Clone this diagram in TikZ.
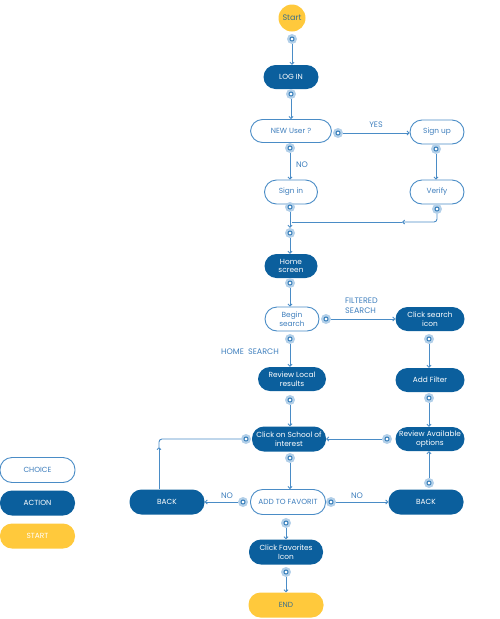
\documentclass[tikz,border=0pt]{standalone}
\usepackage{fontspec}
\setmainfont{Poppins}
\usetikzlibrary{arrows.meta}
\definecolor{dblue}{HTML}{0B5F9D}
\definecolor{lblue}{HTML}{4A8CC6}
\definecolor{tblue}{HTML}{3F7FBD}
\definecolor{halo}{HTML}{B3D0E9}
\definecolor{ylw}{HTML}{FFC93C}
\definecolor{slate}{HTML}{3A6F8C}
\tikzset{
  pill/.style={rectangle, rounded corners=12pt, minimum width=#1, minimum height=24pt, inner sep=1pt, align=center, font=\fontsize{7.4}{8.8}\selectfont},
  act/.style={pill=#1, fill=dblue, text=white},
  choice/.style={pill=#1, draw=lblue, line width=0.9pt, fill=white, text=tblue},
  term/.style={pill=#1, fill=ylw, text=slate},
  dotn/.style={circle, fill=halo, inner sep=0pt, minimum size=10pt,
    path picture={\draw[lblue!70!dblue, line width=1pt, fill=white] (path picture bounding box.center) circle (2pt);}},
  line/.style={draw=lblue, line width=0.9pt},
  conn/.style={line, -{Straight Barb[length=2pt,width=4pt]}},
  lbl/.style={text=tblue, font=\fontsize{8}{9.5}\selectfont, inner sep=0pt}
}
\begin{document}
\begin{tikzpicture}[x=1pt,y=-1pt]
\useasboundingbox (0,0) rectangle (500,619);
% main column
\node[circle, fill=ylw, minimum size=27pt, inner sep=0pt, text=slate, font=\fontsize{8}{9}\selectfont] (start) at (292,18) {Start};
\node[act=55pt] (login) at (291,77) {LOG IN};
\node[choice=81pt, minimum height=23pt] (newuser) at (291,131) {NEW User ?};
\node[choice=54pt] (signup) at (437,132) {Sign up};
\node[choice=54pt] (verify) at (437,192) {Verify};
\node[choice=53pt] (signin) at (291,192) {Sign in};
\node[act=53pt] (home) at (291,266) {Home\\screen};
\node[choice=54pt] (begin) at (292,319) {Begin\\search};
\node[act=69pt] (clicksearch) at (430,319) {Click search\\icon};
\node[act=68pt] (reviewlocal) at (292,379) {Review Local\\results};
\node[act=69pt] (addfilter) at (430,380) {Add Filter};
\node[act=69pt] (reviewavail) at (430,439) {Review Available\\options};
\node[act=74pt, minimum height=25pt] (school) at (289,439) {Click on School of\\interest};
\node[act=75pt, minimum height=25pt] (back1) at (167,502) {BACK};
\node[choice=75pt, minimum height=25pt] (fav) at (288,502) {ADD TO FAVORIT};
\node[act=75pt, minimum height=25pt] (back2) at (426,502) {BACK};
\node[act=74pt, minimum height=25pt] (clickfav) at (286,552) {Click Favorites\\Icon};
\node[term=75pt, minimum height=25pt] (endn) at (286,605) {END};
% legend
\node[choice=75pt, minimum height=25pt] (lchoice) at (37.5,470) {CHOICE};
\node[act=75pt, minimum height=25pt] (laction) at (37.5,503) {ACTION};
\node[term=75pt, minimum height=25pt, text=white] (lstart) at (37.5,536) {START};
% labels
\node[lbl] (yes) at (376,125) {YES};
\node[lbl] (no1) at (302,165) {NO};
\node[lbl, anchor=west, align=left] (filt) at (345,305.5) {FILTERED\\SEARCH};
\node[lbl] (hs) at (250,352) {HOME\ \ SEARCH};
\node[lbl] (no2) at (227,496) {NO};
\node[lbl] (no3) at (357,496) {NO};
% coordinates
\coordinate (join) at (292,222);
\coordinate (jm) at (402,222);
\coordinate (bm) at (159,447);
% connectors (dots)
\node[dotn] (dstart) at (292,39) {};
\node[dotn] (dlogin) at (291,94) {};
\node[dotn] (dnur) at (338,133) {};
\node[dotn] (dnub) at (290,148) {};
\node[dotn] (dsu) at (436,149) {};
\node[dotn] (dve) at (437,209) {};
\node[dotn] (dsi) at (290,207) {};
\node[dotn] (dj) at (290,233) {};
\node[dotn] (dhome) at (290,283) {};
\node[dotn] (dber) at (326,319) {};
\node[dotn] (dbeb) at (290,339) {};
\node[dotn] (dcs) at (429,339) {};
\node[dotn] (drl) at (290,400) {};
\node[dotn] (daf) at (429,398) {};
\node[dotn] (dra) at (387,439) {};
\node[dotn] (dscl) at (246,439) {};
\node[dotn] (dscb) at (290,458) {};
\node[dotn] (dfavl) at (243,502) {};
\node[dotn] (dfavr) at (331,502) {};
\node[dotn] (dfavb) at (286,523) {};
\node[dotn] (db2) at (429,483) {};
\node[dotn] (dcf) at (286,572) {};
% lines
\draw[conn] (dstart) -- (login.north -| dstart);
\draw[conn] (dlogin) -- (newuser.north -| dlogin);
\draw[conn] (dnur) -- (signup.west |- dnur);
\draw[conn] (dnub) -- (signin.north -| dnub);
\draw[conn] (dsu) -- (verify.north -| dsu);
\draw[conn, rounded corners=3pt] (dve) |- (jm);
\draw[line] (jm) -- (join);
\draw[conn] (dsi) -- (dj);
\draw[conn] (dj) -- (home.north -| dj);
\draw[conn] (dhome) -- (begin.north -| dhome);
\draw[conn] (dber) -- (clicksearch.west |- dber);
\draw[conn] (dbeb) -- (reviewlocal.north -| dbeb);
\draw[conn] (dcs) -- (addfilter.north -| dcs);
\draw[conn] (drl) -- (school.north -| drl);
\draw[conn] (daf) -- (reviewavail.north -| daf);
\draw[conn] (dra) -- (school.east |- dra);
\draw[conn] (dscb) -- (fav.north -| dscb);
\draw[conn] (back1.north -| bm) -- (bm);
\draw[line, rounded corners=3pt] (bm) |- (dscl);
\draw[conn] (dfavl) -- (back1.east |- dfavl);
\draw[conn] (dfavr) -- (back2.west |- dfavr);
\draw[conn] (db2) -- (reviewavail.south -| db2);
\draw[conn] (dfavb) -- (clickfav.north -| dfavb);
\draw[conn] (dcf) -- (endn.north -| dcf);
\end{tikzpicture}
\end{document}
